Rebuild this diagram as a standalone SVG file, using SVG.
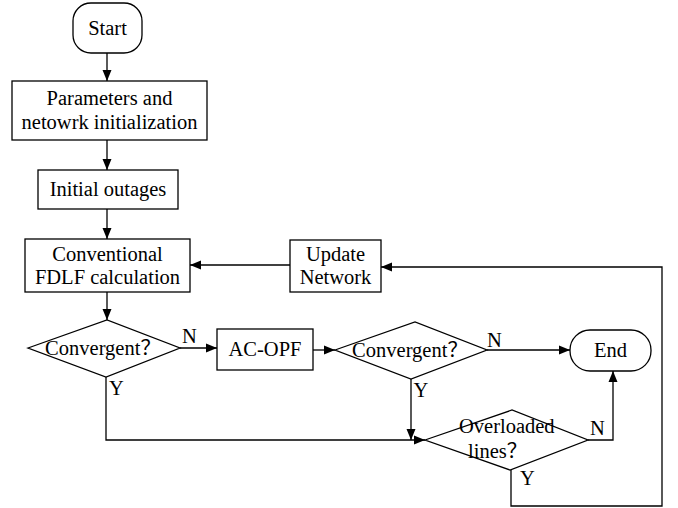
<svg xmlns="http://www.w3.org/2000/svg" width="678" height="508" viewBox="0 0 678 508">
<defs>
<marker id="ah" markerUnits="userSpaceOnUse" markerWidth="12" markerHeight="10" refX="11" refY="5" orient="auto">
<path d="M0,0.5 L11,5 L0,9.5 Z" fill="#000"/>
</marker>
<style>
.s{fill:#fff;stroke:#000;stroke-width:1.3}
.c{fill:none;stroke:#000;stroke-width:1.3;marker-end:url(#ah)}
.l{fill:none;stroke:#000;stroke-width:1.3}
text{font-family:'Liberation Serif',serif;font-size:20.5px;fill:#000}
.q{font-family:'Liberation Serif','Noto Sans CJK SC',serif}
.m{text-anchor:middle}
</style>
</defs>
<rect width="678" height="508" fill="#fff"/>
<g id="connectors">
<line class="c" x1="107" y1="53" x2="107" y2="81"/>
<line class="c" x1="107" y1="140" x2="107" y2="170"/>
<line class="c" x1="107" y1="209" x2="107" y2="239"/>
<line class="c" x1="107" y1="292" x2="107" y2="320"/>
<line class="c" x1="290" y1="265" x2="190" y2="265"/>
<line class="c" x1="180" y1="348" x2="217" y2="348"/>
<line class="c" x1="313" y1="350" x2="335" y2="350"/>
<line class="c" x1="487" y1="350" x2="570" y2="350"/>
<line class="c" x1="411" y1="379" x2="411" y2="440"/>
<polyline class="c" points="106,377 106,440 425,440"/>
<polyline class="c" points="588,440 613,440 613,371"/>
<polyline class="c" points="511,470 511,506 662,506 662,267 381,267"/>
</g>
<g id="start"><rect class="s" x="73" y="3" width="69" height="50" rx="18"/><text class="m" x="107.5" y="35">Start</text></g>
<g id="params"><rect class="s" x="12" y="81" width="195" height="59"/><text class="m" x="109.5" y="105">Parameters and</text><text class="m" x="109.5" y="129">netowrk initialization</text></g>
<g id="outages"><rect class="s" x="38" y="170" width="140" height="39"/><text class="m" x="108" y="196">Initial outages</text></g>
<g id="fdlf"><rect class="s" x="25" y="239" width="165" height="53"/><text class="m" x="107.5" y="260.5">Conventional</text><text class="m" x="107.5" y="284">FDLF calculation</text></g>
<g id="update"><rect class="s" x="290" y="240" width="91" height="52"/><text class="m" x="335.5" y="260.5">Update</text><text class="m" x="335.5" y="284">Network</text></g>
<g id="conv1"><polygon class="s" points="28,348 107,320 180,348 106,377"/><text class="m q" x="103" y="355">Convergent？</text></g>
<g id="acopf"><rect class="s" x="217" y="329" width="96" height="41"/><text class="m" x="265" y="356">AC-OPF</text></g>
<g id="conv2"><polygon class="s" points="335,350 415,322 487,350 411,379"/><text class="m q" x="410" y="357">Convergent？</text></g>
<g id="end"><rect class="s" x="570" y="330" width="81" height="41" rx="20"/><text class="m" x="610.5" y="357">End</text></g>
<g id="overload"><polygon class="s" points="425,440 512,410 588,440 510,470"/><text x="459" y="433">Overloaded</text><text class="q" x="468" y="458">lines？</text></g>
<g id="labels">
<text class="m" x="189.5" y="343">N</text>
<text class="m" x="116.5" y="395">Y</text>
<text class="m" x="494.5" y="347">N</text>
<text class="m" x="421" y="397">Y</text>
<text class="m" x="597.5" y="435">N</text>
<text class="m" x="527.5" y="485">Y</text>
</g>
</svg>
